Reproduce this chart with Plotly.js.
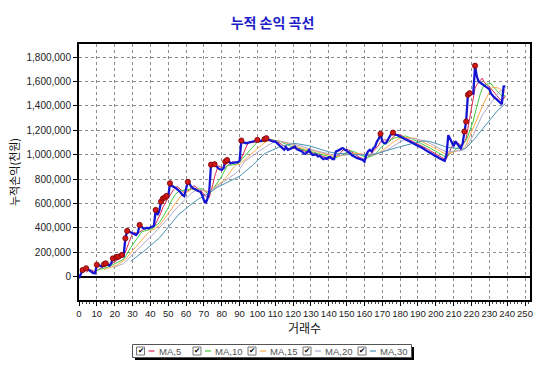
<!DOCTYPE html>
<html><head><meta charset="utf-8">
<script src="https://cdn.plot.ly/plotly-3.0.1.min.js"></script>
<style>html,body{margin:0;padding:0;background:#fff}#chart{width:545px;height:375px}</style>
</head><body><div id="chart"></div>
<script>
// cumulative profit (천원) per trade number
const equity = [
 -13000, 20000, 55000, 50000, 69000, 60000, 50000, 40000, 30000, 28000,
 98000, 95000, 85000, 82000, 102000, 110000, 100000, 90000, 108000, 150000,
 140000, 160000, 164000, 160000, 178000, 170000, 315000, 375000, 370000, 360000,
 356000, 350000, 342000, 360000, 424000, 410000, 397000, 395000, 400000, 397000,
 405000, 410000, 418000, 547000, 506000, 540000, 615000, 640000, 648000, 662000,
 655000, 766000, 745000, 738000, 730000, 717000, 705000, 690000, 670000, 660000,
 720000, 777000, 760000, 735000, 725000, 715000, 706000, 700000, 697000, 670000,
 629000, 602000, 640000, 697000, 918000, 915000, 922000, 900000, 889000, 880000,
 875000, 890000, 943000, 956000, 940000, 930000, 932000, 935000, 935000, 938000,
 950000, 1116000, 1100000, 1094000, 1094000, 1098000, 1100000, 1105000, 1110000, 1115000,
 1121000, 1115000, 1110000, 1120000, 1127000, 1135000, 1125000, 1116000, 1112000, 1108000,
 1108000, 1095000, 1080000, 1067000, 1053000, 1040000, 1062000, 1039000, 1045000, 1053000,
 1060000, 1067000, 1045000, 1040000, 1030000, 1026000, 1010000, 1007000, 1020000, 1039000,
 1010000, 998000, 1000000, 1000000, 985000, 990000, 975000, 963000, 970000, 965000,
 979000, 979000, 963000, 963000, 1026000, 1030000, 1039000, 1050000, 1053000, 1040000,
 1034000, 1020000, 1012000, 995000, 985000, 980000, 971000, 968000, 962000, 957000,
 943000, 998000, 1026000, 1039000, 1026000, 1053000, 1067000, 1108000, 1130000, 1171000,
 1108000, 1094000, 1094000, 1120000, 1149000, 1170000, 1181000, 1165000, 1163000, 1155000,
 1148000, 1144000, 1135000, 1121000, 1115000, 1105000, 1100000, 1095000, 1088000, 1080000,
 1072000, 1065000, 1062000, 1050000, 1039000, 1032000, 1025000, 1017000, 1005000, 995000,
 990000, 980000, 970000, 963000, 955000, 949000, 1000000, 1160000, 1130000, 1100000,
 1070000, 1108000, 1090000, 1067000, 1053000, 1089000, 1190000, 1272000, 1491000, 1504000,
 1500000, 1500000, 1729000, 1640000, 1600000, 1590000, 1580000, 1570000, 1554000, 1545000,
 1537000, 1500000, 1480000, 1465000, 1455000, 1440000, 1430000, 1415000, 1559000, 1560000
];
// trades marked with red dots (new equity highs)
const newHighTrades = [2,4,10,14,15,19,21,22,24,26,27,34,43,46,47,48,49,51,61,74,76,82,83,91,100,104,105,169,176,216,217,218,219,222];
const maPeriods = [5, 10, 15, 20, 30];
const maNames = ['MA,5', 'MA,10', 'MA,15', 'MA,20', 'MA,30'];
const maColors = ['#dc2850', '#3ccc3c', '#ffa84c', '#b0a8c8', '#4a92b4'];
const yTickVals = [0, 200000, 400000, 600000, 800000, 1000000, 1200000, 1400000, 1600000, 1800000];

const tradeNo = equity.map((_, i) => i);

function movingAverage(arr, n) {
  const out = [];
  for (let i = 0; i < arr.length; i++) {
    if (i < n - 1) { out.push(null); continue; }
    let s = 0;
    for (let k = i - n + 1; k <= i; k++) s += arr[k];
    out.push(s / n);
  }
  return out;
}

const traces = [];
maPeriods.forEach((p, j) => {
  traces.push({
    x: tradeNo, y: movingAverage(equity, p), type: 'scatter', mode: 'lines',
    name: maNames[j], line: {color: maColors[j], width: 1}, showlegend: false, hoverinfo: 'skip'
  });
});
traces.push({
  x: tradeNo, y: equity, type: 'scatter', mode: 'lines', name: '누적손익',
  line: {color: '#1414d2', width: 2.3}, showlegend: false
});
traces.push({
  x: newHighTrades, y: newHighTrades.map(i => equity[i]), type: 'scatter', mode: 'markers',
  name: '신고가', marker: {color: '#d01818', size: 5.2, line: {color: '#7a0000', width: 0.8}},
  showlegend: false
});

// legend drawn in pixel positions converted to paper coords
const L = 79, R = 530, T = 44, B = 300;
const px = x => (x - L) / (R - L);
const py = y => (B - y) / (B - T);
const shapes = [];
const annotations = [];
shapes.push({type: 'rect', xref: 'paper', yref: 'paper', x0: px(135), x1: px(414), y0: py(360), y1: py(347), fillcolor: '#000', line: {width: 0}, layer: 'above'});
shapes.push({type: 'rect', xref: 'paper', yref: 'paper', x0: px(132.5), x1: px(411.5), y0: py(357.5), y1: py(344.5), fillcolor: '#fff', line: {color: '#555', width: 1}, layer: 'above'});
const cbX = [136.5, 193, 248, 303, 358];
const legY = 351;
maNames.forEach((nm, j) => {
  const c = cbX[j];
  shapes.push({type: 'rect', xref: 'paper', yref: 'paper', x0: px(c), x1: px(c + 8), y0: py(legY + 4), y1: py(legY - 4), fillcolor: '#fff', line: {color: '#777', width: 1}, layer: 'above'});
  annotations.push({xref: 'paper', yref: 'paper', x: px(c + 4.3), y: py(legY - 0.2), text: '✔', showarrow: false, xanchor: 'center', yanchor: 'middle', font: {family: 'DejaVu Sans', size: 7.5, color: '#000'}});
  shapes.push({type: 'line', xref: 'paper', yref: 'paper', x0: px(c + 12), x1: px(c + 18), y0: py(legY), y1: py(legY), line: {color: maColors[j], width: 1.2}, layer: 'above'});
  annotations.push({xref: 'paper', yref: 'paper', x: px(c + 20), y: py(legY), text: nm, showarrow: false, xanchor: 'left', yanchor: 'middle', font: {family: 'Liberation Sans, Arial', size: 9.5, color: '#555'}});
});

const layout = {
  width: 545, height: 375,
  margin: {l: L, r: 545 - R, t: T, b: 375 - B, pad: 0},
  paper_bgcolor: '#fff', plot_bgcolor: '#fff',
  title: {text: '누적 손익 곡선', font: {family: 'Noto Sans CJK KR', size: 14, color: '#1c1cc8', weight: 'bold'}, x: 0.5, xref: 'container', xanchor: 'center', y: 1 - 23 / 375, yref: 'container', yanchor: 'middle'},
  xaxis: {
    range: [0, 252.8], dtick: 10, tick0: 0, tickangle: 0, showgrid: true, gridcolor: '#8c8c8c', griddash: '3px,3px', gridwidth: 1,
    zeroline: false, showline: true, mirror: true, linecolor: '#000', linewidth: 2,
    ticks: 'outside', ticklen: 4, tickcolor: '#000',
    minor: {dtick: 2, ticks: 'outside', ticklen: 2, tickcolor: '#444', showgrid: false},
    tickfont: {family: 'Liberation Sans, Arial', size: 9.5, color: '#222'},
    title: {text: '거래수', font: {family: 'Noto Sans CJK KR', size: 12, color: '#111'}, standoff: 1},
    fixedrange: true
  },
  yaxis: {
    range: [-191000, 1907000], tickvals: yTickVals, tickformat: ',d', showgrid: true, gridcolor: '#8c8c8c', griddash: '3px,3px', gridwidth: 1,
    zeroline: true, zerolinecolor: '#000', zerolinewidth: 2,
    showline: true, mirror: true, linecolor: '#000', linewidth: 2,
    ticks: 'outside', ticklen: 4, tickcolor: '#000',
    tickfont: {family: 'Liberation Sans, Arial', size: 10, color: '#222'},
    title: {text: '누적손익(천원)', font: {family: 'Noto Sans CJK KR', size: 11, color: '#111'}, standoff: 5},
    fixedrange: true
  },
  showlegend: false,
  shapes: shapes,
  annotations: annotations
};

Plotly.newPlot('chart', traces, layout, {displayModeBar: false, staticPlot: true});
</script>
</body></html>
